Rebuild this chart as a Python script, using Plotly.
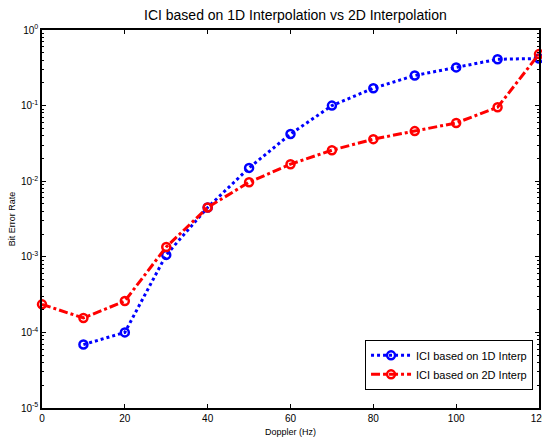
import plotly.graph_objects as go
import numpy as np

doppler_1d = [10, 20, 30, 40, 50, 60, 70, 80, 90, 100, 110, 120]
ber_1d = [6.9e-5, 1.0e-4, 1.06e-3, 4.5e-3, 1.5e-2, 4.2e-2, 0.10, 0.17, 0.25, 0.32, 0.41, 0.42]

doppler_2d = [0, 10, 20, 30, 40, 50, 60, 70, 80, 90, 100, 110, 120]
ber_2d = [2.35e-4, 1.55e-4, 2.6e-4, 1.35e-3, 4.5e-3, 9.7e-3, 1.68e-2, 2.57e-2, 3.6e-2, 4.6e-2, 5.9e-2, 9.5e-2, 0.48]

x_ticks = [0, 20, 40, 60, 80, 100, 120]
y_ticks = [1e-5, 1e-4, 1e-3, 1e-2, 1e-1, 1e0]
y_ticktext = ["10<sup>-5</sup>", "10<sup>-4</sup>", "10<sup>-3</sup>", "10<sup>-2</sup>", "10<sup>-1</sup>", "10<sup>0</sup>"]
minor_y = [m * 10.0 ** e for e in range(-5, 0) for m in range(2, 10)]

font = "Liberation Sans, Arial, sans-serif"

fig = go.Figure()
fig.add_trace(go.Scatter(
    x=doppler_1d, y=ber_1d, mode="lines+markers", name="ICI based on 1D Interp",
    line=dict(color="#0000ff", width=3, dash="dot"),
    marker=dict(symbol="circle-open", size=8, color="#0000ff", line=dict(width=2.5)),
    cliponaxis=False,
))
fig.add_trace(go.Scatter(
    x=doppler_2d, y=ber_2d, mode="lines+markers", name="ICI based on 2D Interp",
    line=dict(color="#ff0000", width=3, dash="dashdot"),
    marker=dict(symbol="circle-open", size=8, color="#ff0000", line=dict(width=2.5)),
    cliponaxis=False,
))

fig.update_layout(
    width=542, height=438,
    margin=dict(l=42, r=3, t=30, b=30),
    paper_bgcolor="white", plot_bgcolor="white",
    font=dict(family=font, size=10, color="black"),
    title=dict(text="ICI based on 1D Interpolation vs 2D Interpolation",
               font=dict(size=14, family=font), x=0.545, xanchor="center", y=0.965, yanchor="middle"),
    showlegend=True,
    legend=dict(x=0.988, y=0.048, xanchor="right", yanchor="bottom",
                bordercolor="black", borderwidth=1, bgcolor="white",
                font=dict(size=11, family=font), tracegroupgap=0, itemwidth=40),
)
fig.update_xaxes(
    range=[0, 120], tickvals=x_ticks, ticks="inside", ticklen=4, tickcolor="black",
    showline=True, linecolor="black", linewidth=1.5, mirror="ticks", showgrid=False, zeroline=False,
    title=dict(text="Doppler (Hz)", font=dict(size=9), standoff=6),
    tickfont=dict(size=10), ticklabeloverflow="allow", automargin=False,
)
fig.update_yaxes(
    type="log", range=[-5, 0], tickvals=y_ticks, ticktext=y_ticktext,
    ticks="inside", ticklen=4, tickcolor="black",
    showline=True, linecolor="black", linewidth=1.5, mirror="ticks", showgrid=False, zeroline=False,
    minor=dict(tickvals=minor_y, ticks="inside", ticklen=2, tickcolor="black", showgrid=False),
    title=dict(text="Bit Error Rate", font=dict(size=9), standoff=4),
    tickfont=dict(size=10), ticklabeloverflow="allow", automargin=False,
)

fig.write_html("out.html", config={"displayModeBar": False},
               post_script="document.body.style.margin='0';document.body.style.overflow='hidden';")
